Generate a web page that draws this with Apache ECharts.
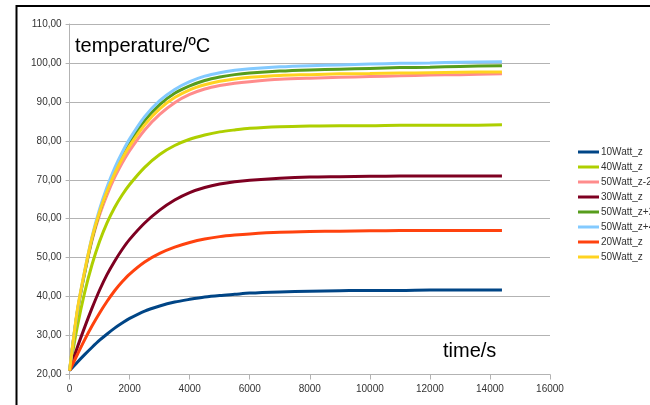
<!DOCTYPE html>
<html>
<head>
<meta charset="utf-8">
<script src="https://cdn.jsdelivr.net/npm/echarts@6/dist/echarts.min.js"></script>
<style>
  html, body { margin: 0; padding: 0; background: #fff; }
  #chart { width: 650px; height: 405px; }
</style>
</head>
<body>
<div id="chart"></div>
<script>
// time in seconds
var times = [0, 250, 500, 750, 1000, 1250, 1500, 1750, 2000, 2500, 3000, 3500, 4000, 4500, 5000, 5500, 6000, 7000, 8000, 9000, 10000, 11000, 12000, 13000, 14400];

var w10z   = [21, 23.1, 25.1, 27.0, 28.8, 30.4, 31.9, 33.2, 34.4, 36.3, 37.6, 38.6, 39.3, 39.9, 40.3, 40.6, 40.9, 41.2, 41.4, 41.5, 41.6, 41.6, 41.7, 41.7, 41.7];
var w40z   = [21, 32.0, 41.0, 48.3, 54.2, 59.0, 62.9, 66.1, 68.8, 73.2, 76.5, 78.8, 80.4, 81.5, 82.3, 82.8, 83.2, 83.6, 83.8, 83.9, 83.9, 84.0, 84.0, 84.0, 84.1];
var w50zm2 = [21, 35.8, 46.0, 54.5, 61.0, 66.2, 70.6, 74.3, 77.5, 82.8, 86.8, 89.8, 91.9, 93.3, 94.2, 94.8, 95.2, 95.8, 96.1, 96.3, 96.5, 96.7, 96.9, 97.0, 97.2];
var w30z   = [21, 26.8, 32.1, 37.1, 41.7, 45.7, 49.1, 52.1, 54.7, 58.9, 62.2, 64.8, 66.7, 68.0, 68.9, 69.5, 69.9, 70.4, 70.7, 70.8, 70.9, 71.0, 71.0, 71.0, 71.0];
var w50zp2 = [21, 35.7, 46.0, 54.9, 61.8, 67.4, 72.1, 76.0, 79.5, 85.2, 89.3, 92.2, 94.1, 95.5, 96.4, 97.0, 97.4, 97.9, 98.2, 98.4, 98.6, 98.8, 98.9, 99.1, 99.3];
var w50zp4 = [21, 36.0, 46.5, 55.5, 62.5, 68.2, 73.0, 77.0, 80.5, 86.2, 90.3, 93.2, 95.2, 96.6, 97.5, 98.1, 98.5, 99.0, 99.3, 99.5, 99.7, 99.9, 100.0, 100.2, 100.3];
var w20z   = [21, 25.0, 28.9, 32.5, 35.8, 38.8, 41.5, 43.8, 45.8, 48.9, 51.1, 52.7, 53.9, 54.8, 55.4, 55.8, 56.1, 56.5, 56.7, 56.8, 56.9, 57.0, 57.0, 57.0, 57.0];
var w50z   = [21, 36.2, 46.5, 55.2, 61.8, 67.1, 71.6, 75.4, 78.7, 84.1, 88.2, 91.1, 93.1, 94.4, 95.3, 95.9, 96.3, 96.8, 97.0, 97.2, 97.3, 97.4, 97.5, 97.6, 97.7];

var names = ['10Watt_z', '40Watt_z', '50Watt_z-2', '30Watt_z', '50Watt_z+2', '50Watt_z+4', '20Watt_z', '50Watt_z'];
var values = [w10z, w40z, w50zm2, w30z, w50zp2, w50zp4, w20z, w50z];
var colors = ['#004586', '#aecf00', '#ff8c8c', '#7e0021', '#579d1c', '#83caff', '#ff420e', '#ffd320'];

var font = 'Liberation Sans, Arial, sans-serif';

var series = names.map(function(n, i) {
  return {
    name: n,
    type: 'line',
    smooth: 0.3,
    showSymbol: false,
    lineStyle: { width: 3, color: colors[i] },
    itemStyle: { color: colors[i] },
    data: times.map(function(t, j) { return [t, values[i][j]]; })
  };
});

var chart = echarts.init(document.getElementById('chart'));
chart.setOption({
  backgroundColor: '#fff',
  animation: false,
  grid: { left: 69.6, right: 100, top: 24, bottom: 30.5 },
  legend: {
    orient: 'vertical',
    left: 573,
    top: 141,
    icon: 'rect',
    itemWidth: 21,
    itemHeight: 3,
    itemGap: 3,
    textStyle: { fontFamily: font, fontSize: 10, color: '#333', lineHeight: 12, padding: [0, 0, 0, -3] },
    data: names
  },
  xAxis: {
    type: 'value',
    min: 0,
    max: 16000,
    interval: 2000,
    axisLine: { show: true, lineStyle: { color: '#b3b3b3', width: 1 } },
    axisTick: { show: true, length: 5, lineStyle: { color: '#b3b3b3' } },
    axisLabel: {
      fontFamily: font, fontSize: 10, color: '#333', margin: 10,
      formatter: function(v) { return String(v); }
    },
    splitLine: { show: false }
  },
  yAxis: {
    type: 'value',
    min: 20,
    max: 110,
    interval: 10,
    axisLine: { show: true, lineStyle: { color: '#b3b3b3', width: 1 } },
    axisTick: { show: true, length: 4, lineStyle: { color: '#b3b3b3' } },
    axisLabel: {
      fontFamily: font, fontSize: 10, color: '#333', margin: 8,
      formatter: function(v) { return v.toFixed(2).replace('.', ','); }
    },
    splitLine: { show: true, lineStyle: { color: '#b3b3b3', width: 1 } }
  },
  graphic: [
    {
      type: 'rect',
      shape: { x: 16.5, y: 6, width: 700, height: 500 },
      style: { fill: 'none', stroke: '#000', lineWidth: 2 },
      z: 100
    },
    {
      type: 'text',
      left: 75,
      top: 36,
      style: { text: 'temperature/ºC', font: '20px ' + font, fill: '#000' },
      z: 100
    },
    {
      type: 'text',
      left: 443,
      top: 341,
      style: { text: 'time/s', font: '20px ' + font, fill: '#000' },
      z: 100
    }
  ],
  series: series
});
</script>
</body>
</html>
